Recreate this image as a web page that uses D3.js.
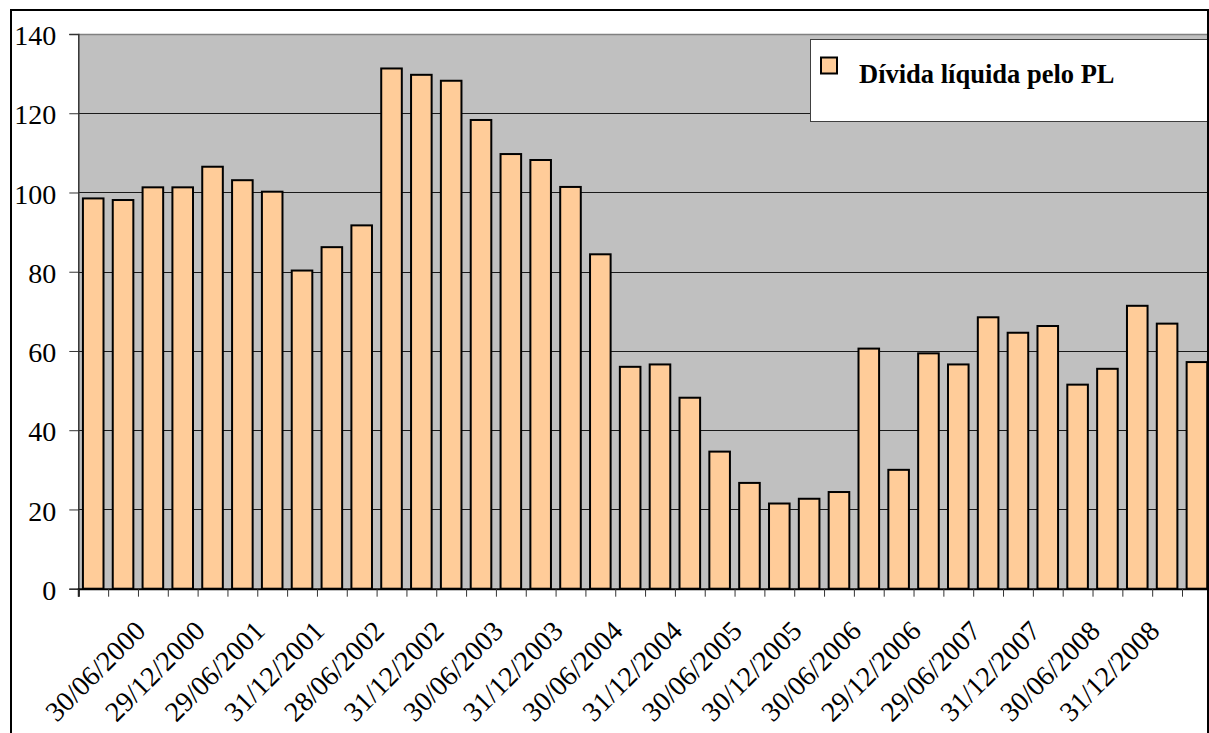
<!DOCTYPE html>
<html>
<head>
<meta charset="utf-8">
<script src="https://cdn.jsdelivr.net/npm/d3@7"></script>
<style>
  html, body { margin: 0; padding: 0; background: #fff; overflow: hidden; }
  svg { display: block; }
</style>
</head>
<body>
<svg id="chart" width="1209" height="733"></svg>
<script>
// Quarter-end dates (every second one is labelled on the axis)
const categories = [
  "31/03/2000", "30/06/2000", "29/09/2000", "29/12/2000",
  "30/03/2001", "29/06/2001", "28/09/2001", "31/12/2001",
  "28/03/2002", "28/06/2002", "30/09/2002", "31/12/2002",
  "31/03/2003", "30/06/2003", "30/09/2003", "31/12/2003",
  "31/03/2004", "30/06/2004", "30/09/2004", "31/12/2004",
  "31/03/2005", "30/06/2005", "30/09/2005", "30/12/2005",
  "31/03/2006", "30/06/2006", "29/09/2006", "29/12/2006",
  "30/03/2007", "29/06/2007", "28/09/2007", "31/12/2007",
  "31/03/2008", "30/06/2008", "30/09/2008", "31/12/2008",
  "31/03/2009", "30/06/2009"
];

// Net debt over shareholders' equity (%)
const values = [
  98.5, 98.1, 101.3, 101.3,
  106.5, 103.1, 100.2, 80.3,
  86.2, 91.7, 131.3, 129.7,
  128.2, 118.3, 109.7, 108.2,
  101.4, 84.4, 56.0, 56.6,
  48.2, 34.6, 26.7, 21.5,
  22.7, 24.4, 60.6, 30.0,
  59.4, 56.6, 68.5, 64.6,
  66.3, 51.5, 55.5, 71.4,
  66.9, 57.2
];

// Axis labels shown under the bars
const tickLabels = [
  "30/06/2000", "29/12/2000", "29/06/2001", "31/12/2001",
  "28/06/2002", "31/12/2002", "30/06/2003", "31/12/2003",
  "30/06/2004", "31/12/2004", "30/06/2005", "30/12/2005",
  "30/06/2006", "29/12/2006", "29/06/2007", "31/12/2007",
  "30/06/2008", "31/12/2008"
];

const yTicks = [0, 20, 40, 60, 80, 100, 120, 140];
const seriesName = "Dívida líquida pelo PL";

// ---- layout ----
const W = 1209, H = 733;
const plotLeft = 78.3, plotTop = 34, plotBottom = 588.7;
const step = 29.83;
const plotRight = plotLeft + step * categories.length;
const clipRight = 1208;

const serif = "'Liberation Serif', 'Times New Roman', serif";

const svg = d3.select("#chart");

const x = d3.scaleBand()
  .domain(categories)
  .range([plotLeft, plotRight])
  .paddingInner(0.31)
  .paddingOuter(0.155);

const xEdge = d3.scaleLinear()
  .domain([0, categories.length])
  .range([plotLeft, plotRight]);

const y = d3.scaleLinear()
  .domain([0, 140])
  .range([plotBottom, plotTop]);

svg.append("defs").append("clipPath").attr("id", "clip")
  .append("rect")
  .attr("x", 0).attr("y", 0)
  .attr("width", clipRight).attr("height", H);

const root = svg.append("g").attr("clip-path", "url(#clip)");

// plot area background
root.append("rect")
  .attr("x", plotLeft).attr("y", plotTop)
  .attr("width", plotRight - plotLeft)
  .attr("height", plotBottom - plotTop)
  .attr("fill", "#c0c0c0");

// horizontal gridlines
root.append("g")
  .selectAll("line")
  .data(yTicks.filter(d => d > 0 && d < 140))
  .join("line")
  .attr("x1", plotLeft).attr("x2", plotRight)
  .attr("y1", d => Math.round(y(d)) + 0.5)
  .attr("y2", d => Math.round(y(d)) + 0.5)
  .attr("stroke", "#1a1a1a")
  .attr("stroke-width", 1);

// plot area top border
root.append("line")
  .attr("x1", plotLeft).attr("x2", plotRight)
  .attr("y1", plotTop + 0.5).attr("y2", plotTop + 0.5)
  .attr("stroke", "#808080").attr("stroke-width", 1.5);

// bars
root.append("g")
  .selectAll("rect")
  .data(values)
  .join("rect")
  .attr("x", (d, i) => x(categories[i]))
  .attr("y", d => y(d))
  .attr("width", x.bandwidth())
  .attr("height", d => y(0) - y(d))
  .attr("fill", "#ffcc99")
  .attr("stroke", "#000")
  .attr("stroke-width", 2);

// y axis
const yAxis = root.append("g")
  .attr("transform", `translate(${plotLeft},0)`)
  .call(d3.axisLeft(y).tickValues(yTicks).tickSize(9).tickPadding(13));
yAxis.select(".domain").attr("stroke", "#333").attr("stroke-width", 1.5);
yAxis.selectAll(".tick line").attr("stroke", "#333");
yAxis.selectAll(".tick text")
  .attr("font-family", serif)
  .attr("font-size", 28)
  .attr("fill", "#000")
  .attr("dy", "0.38em");

// x axis (tick marks at category boundaries)
const xAxis = root.append("g")
  .attr("transform", `translate(0,${plotBottom})`)
  .call(d3.axisBottom(xEdge)
    .tickValues(d3.range(categories.length + 1))
    .tickSize(8)
    .tickFormat(""));
xAxis.select(".domain").attr("stroke", "#000").attr("stroke-width", 2);
xAxis.selectAll(".tick line").attr("stroke", "#333");

// rotated category labels
root.append("g")
  .selectAll("text")
  .data(tickLabels)
  .join("text")
  .attr("transform", d => {
    const cx = x(d) + x.bandwidth() / 2 + 24;
    const cy = plotBottom + 44;
    return `translate(${cx},${cy}) rotate(-45)`;
  })
  .attr("text-anchor", "end")
  .attr("font-family", serif)
  .attr("font-size", 28)
  .attr("fill", "#000")
  .text(d => d);

// legend
const legend = root.append("g");
legend.append("rect")
  .attr("x", 810.5).attr("y", 39.5)
  .attr("width", 398).attr("height", 82)
  .attr("fill", "#fff")
  .attr("stroke", "#404040")
  .attr("stroke-width", 1);
legend.append("rect")
  .attr("x", 821).attr("y", 57.5)
  .attr("width", 16).attr("height", 16)
  .attr("fill", "#ffcc99")
  .attr("stroke", "#000")
  .attr("stroke-width", 2);
legend.append("text")
  .attr("x", 859).attr("y", 82.7)
  .attr("font-family", serif)
  .attr("font-size", 26.5)
  .attr("font-weight", "bold")
  .attr("fill", "#000")
  .text(seriesName);

// chart area border
svg.append("rect")
  .attr("x", 11).attr("y", 10)
  .attr("width", clipRight - 11).attr("height", H + 20)
  .attr("fill", "none")
  .attr("stroke", "#000")
  .attr("stroke-width", 2);
</script>
</body>
</html>
